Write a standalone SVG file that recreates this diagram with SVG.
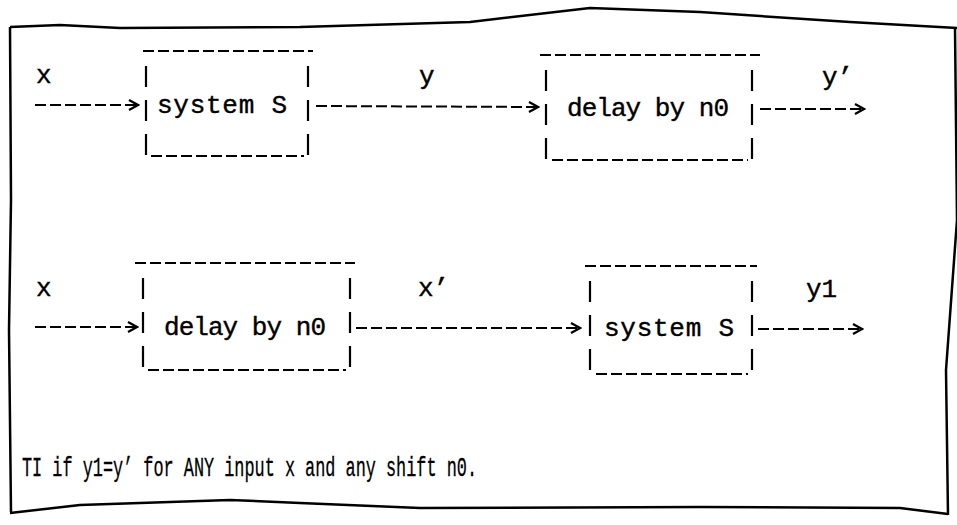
<svg xmlns="http://www.w3.org/2000/svg" width="957" height="525" viewBox="0 0 957 525">
<defs>
<style>
.t{font-family:"Liberation Mono","DejaVu Sans Mono",monospace;font-size:26px;fill:#000;stroke:#000;stroke-width:0.4;}
.b{font-family:"Liberation Mono","DejaVu Sans Mono",monospace;font-size:27px;fill:#000;stroke:#000;stroke-width:0.3;}
.dh{stroke:#000;stroke-width:2;fill:none;stroke-dasharray:11 4;}
.dv{stroke:#000;stroke-width:2.2;fill:none;stroke-dasharray:21 13;}
.ar{stroke:#000;stroke-width:2;fill:none;stroke-dasharray:11 4;marker-end:url(#ah);}
.fr{stroke:#000;stroke-width:2.5;fill:none;stroke-linejoin:round;}
</style>
<marker id="ah" markerWidth="12" markerHeight="14" refX="10" refY="6" orient="auto" markerUnits="userSpaceOnUse">
<path d="M1,1 L10,6 L1,11" fill="none" stroke="#000" stroke-width="2.2"/>
</marker>
</defs>
<rect width="957" height="525" fill="#fff"/>
<path class="fr" d="M10,27 L60,25 L120,28 L300,27 L470,22 L590,8 L700,12 L850,22 L957,28"/>
<path class="fr" d="M10,27 L11,200 L9,330 L11,512"/>
<path class="fr" d="M955,28 L957,220 L946,370 L948,515"/>
<path class="fr" d="M10,513 L80,505 L230,500 L300,503 L420,508 L700,507 L900,508 L948,514"/>

<g id="connectors">
<path class="ar" d="M35,105 L138,105"/>
<path class="ar" d="M316,106 L538,107"/>
<path class="ar" d="M760,109 L864,109"/>
<path class="ar" d="M35,327 L137,327"/>
<path class="ar" d="M356,328 L580,328"/>
<path class="ar" d="M758,329 L862,329"/>
<text class="t" x="36" y="83">x</text>
<text class="t" x="419" y="84">y</text>
<text class="t" x="822" y="85">y’</text>
<text class="t" x="36" y="296">x</text>
<text class="t" x="418" y="296">x’</text>
<text class="t" x="806" y="297">y1</text>
</g>

<g id="box-system-s-1">
<path class="dh" d="M143,51 L313,51"/>
<path class="dv" d="M146,66 L146,160"/>
<path class="dv" d="M308,66 L308,160"/>
<path class="dh" d="M151,156 L304,156"/>
<text class="t" x="157" y="113" textLength="130" lengthAdjust="spacing">system S</text>
</g>

<g id="box-delay-1">
<path class="dh" d="M540,55 L760,55"/>
<path class="dv" d="M546,70 L546,164"/>
<path class="dv" d="M752,70 L752,164"/>
<path class="dh" d="M552,160 L748,160"/>
<text class="t" x="567" y="116" textLength="162" lengthAdjust="spacing">delay by n0</text>
</g>

<g id="box-delay-2">
<path class="dh" d="M135,263 L355,263"/>
<path class="dv" d="M143,278 L143,374"/>
<path class="dv" d="M350,278 L350,374"/>
<path class="dh" d="M148,370 L346,370"/>
<text class="t" x="164" y="335" textLength="162" lengthAdjust="spacing">delay by n0</text>
</g>

<g id="box-system-s-2">
<path class="dh" d="M585,266 L757,266"/>
<path class="dv" d="M590,281 L590,378"/>
<path class="dv" d="M752,281 L752,378"/>
<path class="dh" d="M596,374 L748,374"/>
<text class="t" x="604" y="336" textLength="130" lengthAdjust="spacing">system S</text>
</g>

<text class="b" x="22" y="476" textLength="455" lengthAdjust="spacingAndGlyphs">TI if y1=y’ for ANY input x and any shift n0.</text>
</svg>
